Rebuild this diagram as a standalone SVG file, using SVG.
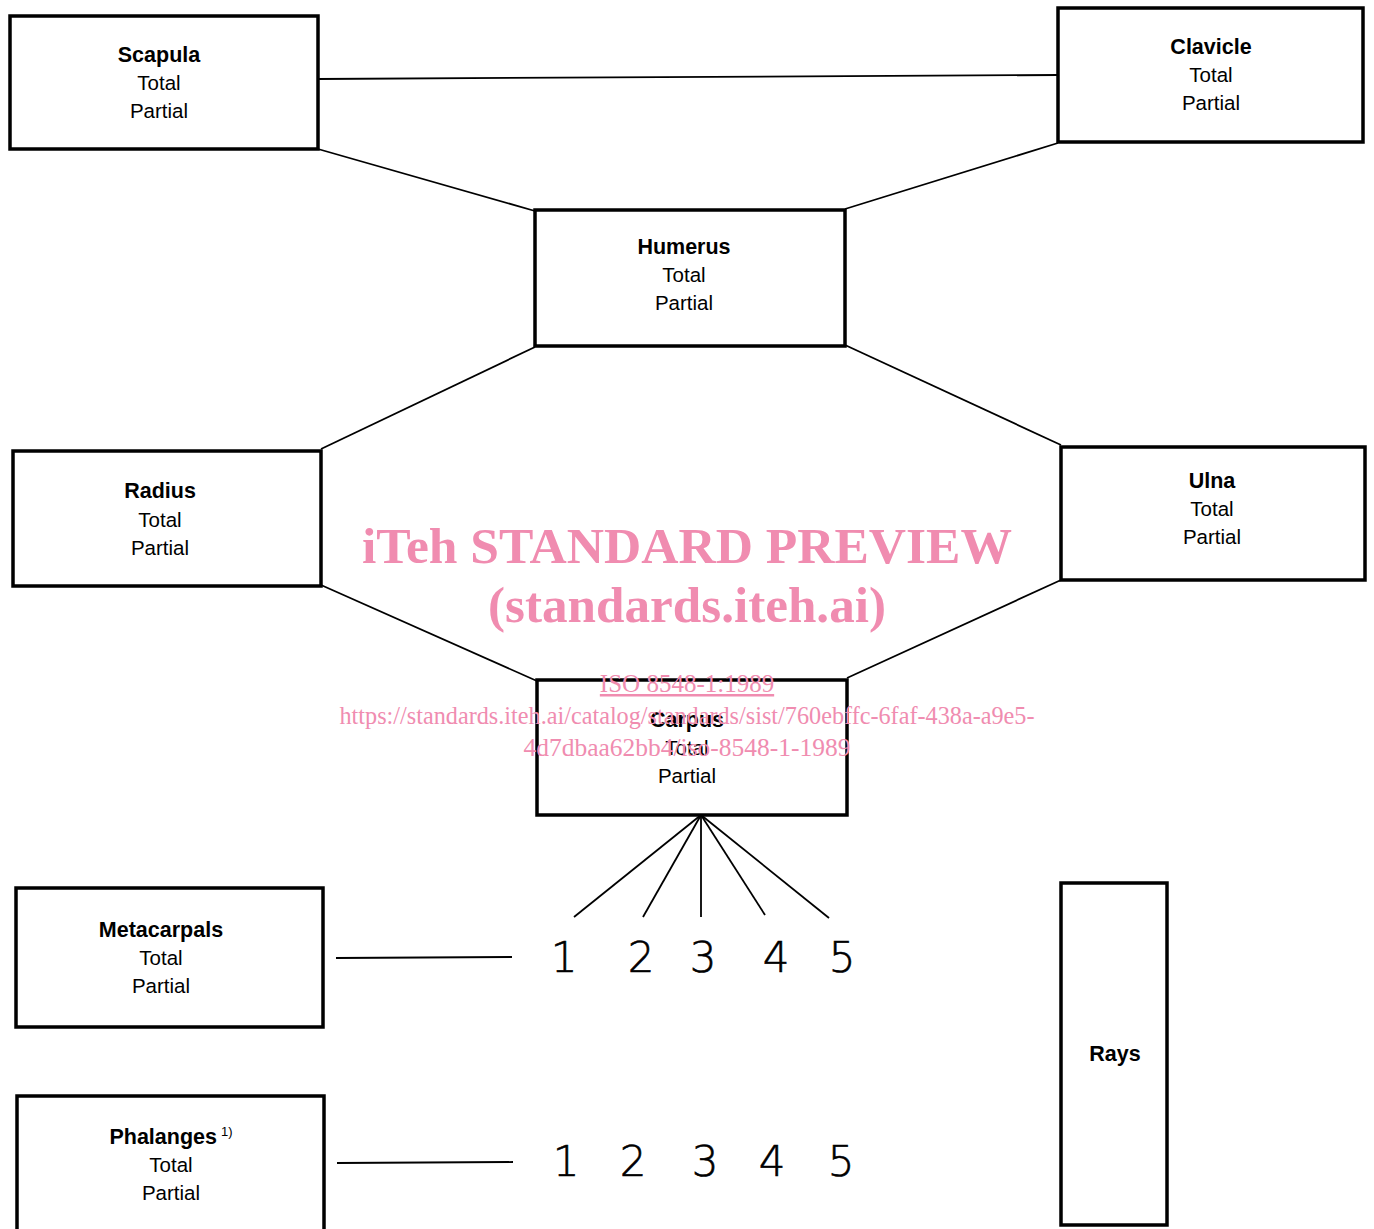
<svg xmlns="http://www.w3.org/2000/svg" width="1374" height="1229" viewBox="0 0 1374 1229">
<style>
.box{fill:#fff;stroke:#000;stroke-width:3.5}
.ln{stroke:#000;stroke-width:1.8;fill:none}
.t{font-family:"Liberation Sans",Arial,sans-serif;font-size:20.5px;text-anchor:middle;fill:#000}
.b{font-weight:bold;font-size:21.5px}
.num{font-family:"DejaVu Sans",sans-serif;font-size:42px;font-weight:200;text-anchor:middle;fill:#000;stroke:#000;stroke-width:0.6}
.wm{font-family:"Liberation Serif","Times New Roman",serif;fill:#f08cb0;text-anchor:middle}
</style>
<rect width="1374" height="1229" fill="#fff"/>
<g id="connectors">
<line class="ln" x1="318" y1="79" x2="1058" y2="75"/>
<line class="ln" x1="318" y1="149" x2="535" y2="211"/>
<line class="ln" x1="1058" y1="143" x2="845" y2="209"/>
<line class="ln" x1="535" y1="347" x2="321" y2="449"/>
<line class="ln" x1="845" y1="345" x2="1061" y2="445"/>
<line class="ln" x1="321" y1="585" x2="537" y2="681"/>
<line class="ln" x1="1061" y1="580" x2="847" y2="678"/>
<line class="ln" x1="701" y1="815" x2="574" y2="917"/>
<line class="ln" x1="701" y1="815" x2="643" y2="917"/>
<line class="ln" x1="701" y1="815" x2="701" y2="917"/>
<line class="ln" x1="701" y1="815" x2="765" y2="915"/>
<line class="ln" x1="701" y1="815" x2="829" y2="918"/>
<line class="ln" x1="336" y1="958" x2="512" y2="957"/>
<line class="ln" x1="337" y1="1163" x2="513" y2="1162"/>
</g>
<g id="scapula"><rect class="box" x="10" y="16" width="308" height="133"/>
<text class="t b" x="159" y="62">Scapula</text><text class="t" x="159" y="90">Total</text><text class="t" x="159" y="118">Partial</text></g>
<g id="clavicle"><rect class="box" x="1058" y="8" width="305" height="134"/>
<text class="t b" x="1211" y="54">Clavicle</text><text class="t" x="1211" y="82">Total</text><text class="t" x="1211" y="110">Partial</text></g>
<g id="humerus"><rect class="box" x="535" y="210" width="310" height="136"/>
<text class="t b" x="684" y="254">Humerus</text><text class="t" x="684" y="282">Total</text><text class="t" x="684" y="310">Partial</text></g>
<g id="radius"><rect class="box" x="13" y="451" width="308" height="135"/>
<text class="t b" x="160" y="498">Radius</text><text class="t" x="160" y="527">Total</text><text class="t" x="160" y="555">Partial</text></g>
<g id="ulna"><rect class="box" x="1061" y="447" width="304" height="133"/>
<text class="t b" x="1212" y="488">Ulna</text><text class="t" x="1212" y="516">Total</text><text class="t" x="1212" y="544">Partial</text></g>
<g id="carpus"><rect class="box" x="537" y="680" width="310" height="135"/>
<text class="t b" x="687" y="727">Carpus</text><text class="t" x="687" y="755">Total</text><text class="t" x="687" y="783">Partial</text></g>
<g id="metacarpals"><rect class="box" x="16" y="888" width="307" height="139"/>
<text class="t b" x="161" y="937">Metacarpals</text><text class="t" x="161" y="965">Total</text><text class="t" x="161" y="993">Partial</text></g>
<g id="phalanges"><rect class="box" x="17" y="1096" width="307" height="140"/>
<text class="t" x="171" y="1144"><tspan class="b">Phalanges</tspan><tspan font-size="13" dy="-8" dx="4">1)</tspan></text>
<text class="t" x="171" y="1172">Total</text><text class="t" x="171" y="1200">Partial</text></g>
<g id="rays"><rect class="box" x="1061" y="883" width="106" height="342"/>
<text class="t b" x="1115" y="1061">Rays</text></g>
<g id="metacarpal-numbers">
<text class="num" x="564" y="972">1</text><text class="num" x="641" y="972">2</text><text class="num" x="703" y="972">3</text><text class="num" x="776" y="972">4</text><text class="num" x="842" y="972">5</text>
</g>
<g id="phalanx-numbers">
<text class="num" x="566" y="1176">1</text><text class="num" x="633" y="1176">2</text><text class="num" x="705" y="1176">3</text><text class="num" x="772" y="1176">4</text><text class="num" x="841" y="1176">5</text>
</g>
<g id="watermark">
<text class="wm" x="687" y="563" font-size="51" font-weight="bold" textLength="650" lengthAdjust="spacingAndGlyphs">iTeh STANDARD PREVIEW</text>
<text class="wm" x="687" y="622" font-size="51" font-weight="bold" textLength="398" lengthAdjust="spacingAndGlyphs">(standards.iteh.ai)</text>
<text class="wm" x="687" y="692" font-size="25" text-decoration="underline">ISO 8548-1:1989</text>
<text class="wm" x="687" y="724" font-size="25" textLength="695" lengthAdjust="spacingAndGlyphs">https://standards.iteh.ai/catalog/standards/sist/760ebffc-6faf-438a-a9e5-</text>
<text class="wm" x="687" y="756" font-size="25" textLength="327" lengthAdjust="spacingAndGlyphs">4d7dbaa62bb4/iso-8548-1-1989</text>
</g>
</svg>
